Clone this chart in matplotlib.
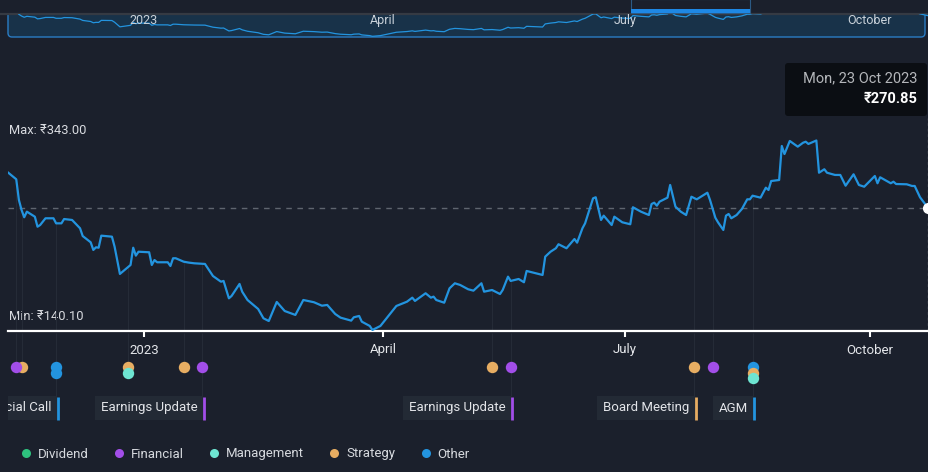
import datetime as dt
import numpy as np
import matplotlib
matplotlib.use("Agg")
import matplotlib.pyplot as plt
import matplotlib.dates as mdates
import matplotlib.transforms as mtransforms
from matplotlib.patches import FancyBboxPatch, Rectangle
from matplotlib.lines import Line2D

plt.rcParams['font.family'] = ['Roboto', 'DejaVu Sans']

# trading days counted from 1 Jan 2023, and the close (INR)
days = [-51, -48, -47, -46, -45, -44, -41, -40, -39, -37,
        -34, -33, -31, -30, -27, -24, -23, -20, -19, -18,
        -17, -16, -12, -11, -9, -5, -4, -3, -2, 2,
        3, 4, 5, 9, 10, 11, 12, 15, 17, 19,
        23, 26, 29, 30, 32, 33, 36, 37, 39, 43,
        45, 47, 50, 53, 57, 60, 64, 67, 69, 72,
        74, 78, 79, 81, 82, 85, 86, 89, 95, 99,
        101, 102, 106, 108, 109, 110, 113, 115, 117, 119,
        122, 124, 127, 128, 131, 134, 135, 137, 138, 141,
        143, 144, 150, 151, 153, 155, 156, 159, 162, 163,
        165, 166, 169, 170, 172, 173, 176, 177, 180, 183,
        184, 187, 190, 191, 192, 193, 194, 197, 198, 200,
        202, 204, 206, 208, 212, 213, 215, 216, 218, 219,
        220, 221, 223, 225, 227, 228, 229, 232, 234, 235,
        236, 239, 240, 241, 243, 246, 248, 249, 250, 253,
        254, 256, 257, 260, 262, 264, 267, 269, 271, 275,
        276, 277, 281, 282, 283, 287, 289, 290, 292, 295]
prices = [308.5, 301.5, 279.3, 268.6, 260.8, 266.8, 261.4, 250.7, 252.5, 259.7,
          259.7, 254.3, 254.3, 258.9, 257.9, 249.0, 240.7, 234.0, 225.8, 228.6,
          228.2, 241.1, 240.0, 229.3, 200.1, 209.7, 228.2, 219.7, 223.9, 223.3,
          209.7, 215.0, 212.6, 212.6, 208.6, 216.9, 216.9, 213.2, 212.2, 211.5,
          210.8, 197.9, 191.8, 192.6, 174.0, 176.5, 189.4, 181.1, 172.2, 162.6,
          152.6, 149.7, 170.1, 160.4, 156.2, 172.2, 169.8, 166.1, 166.9, 157.2,
          153.3, 150.1, 153.7, 155.1, 149.0, 144.4, 140.1, 144.4, 165.8, 170.4,
          174.7, 171.2, 179.4, 174.7, 175.8, 172.2, 169.3, 184.7, 190.1, 188.3,
          183.7, 182.2, 190.1, 181.1, 182.9, 178.6, 182.9, 197.2, 192.6, 194.7,
          191.2, 203.3, 199.0, 218.6, 223.9, 227.6, 231.9, 227.6, 237.5, 233.6,
          249.0, 254.3, 281.1, 282.2, 257.9, 262.5, 252.5, 261.4, 255.4, 253.3,
          271.5, 266.8, 263.2, 275.0, 276.4, 273.2, 277.5, 281.8, 295.4, 272.1,
          266.8, 263.2, 282.8, 280.0, 287.1, 279.3, 260.3, 255.4, 247.2, 262.5,
          264.3, 259.7, 263.2, 269.7, 280.0, 280.0, 283.9, 281.8, 292.5, 290.0,
          299.6, 300.7, 337.1, 328.5, 342.5, 336.4, 340.6, 341.7, 339.3, 343.0,
          308.5, 312.2, 308.5, 306.1, 306.1, 294.6, 306.8, 295.4, 293.5, 305.0,
          297.2, 303.6, 297.2, 298.9, 296.4, 296.1, 294.3, 294.3, 282.2, 270.85]

max_text = 'Max: ₹343.00'
min_text = 'Min: ₹140.10'
tip_date = 'Mon, 23 Oct 2023'
tip_price = '₹270.85'
last_price = 270.85

tick_dates = [dt.datetime(2023, 1, 1), dt.datetime(2023, 4, 1),
              dt.datetime(2023, 7, 1), dt.datetime(2023, 10, 1)]
tick_labels = ['2023', 'April', 'July', 'October']

# events (days from 1 Jan 2023); same-day events stack downwards
event_days = [-46, -48, -33, -33, -6, -6, 15, 22, 131, 138, 207, 214, 229, 229, 229]
event_types = ['Strategy', 'Financial', 'Other', 'Other', 'Strategy', 'Management',
               'Strategy', 'Financial', 'Strategy', 'Financial', 'Strategy',
               'Financial', 'Other', 'Strategy', 'Management']
label_days = [-33, 22, 138, 207, 229]
label_texts = ['Special Call', 'Earnings Update', 'Earnings Update', 'Board Meeting', 'AGM']
label_types = ['Other', 'Financial', 'Financial', 'Strategy', 'Other']

legend_names = ['Dividend', 'Financial', 'Management', 'Strategy', 'Other']
colors = {'Dividend': '#2ec27e', 'Financial': '#a24ee8', 'Management': '#6ee5d2',
          'Strategy': '#e7ad62', 'Other': '#2394df'}

bg = '#1b202c'
line_c = '#2394df'
faint = '#252b37'

W, H = 929, 472
base = mdates.date2num(dt.datetime(2023, 1, 1))
xs = base + np.array(days, dtype=float)

fig = plt.figure(figsize=(W / 100, H / 100), dpi=100, facecolor=bg)

# full-figure pixel overlay for the chrome
ov = fig.add_axes([0, 0, 1, 1], zorder=0)
ov.set_xlim(0, W)
ov.set_ylim(H, 0)
ov.axis('off')

# main price chart
ax = fig.add_axes([8 / W, 1 - 331 / H, 920 / W, 271 / H], zorder=2)
ax.patch.set_alpha(0)
ax.set_xlim(base - 51.1, base + 295.0)
ax.set_ylim(139.0, 429.2)
ax.xaxis_date()
for s in ['top', 'left', 'right']:
    ax.spines[s].set_visible(False)
ax.spines['bottom'].set_color('white')
ax.spines['bottom'].set_linewidth(1.6)
ax.set_yticks([])
ax.set_xticks(mdates.date2num(tick_dates))
ax.set_xticklabels(tick_labels)
ax.tick_params(axis='x', colors='white', length=4, width=1.5,
               labelcolor='#e4e6ea', labelsize=9.5, pad=5)

blend = mtransforms.blended_transform_factory(ax.transData, ov.transData)

# stacking of same-day events
stack = []
seen = {}
for d in event_days:
    stack.append(seen.get(d, 0))
    seen[d] = seen.get(d, 0) + 1

# faint guide lines from the price down to the event markers / labels
for d in sorted(set(event_days)):
    xd = base + d
    top = np.interp(xd, xs, prices)
    ax.vlines(xd, 139.0, top, color=faint, lw=0.8, zorder=1)
    if d in label_days:
        y_end = 396
    else:
        y_end = 367 + 5.6 * (seen[d] - 1)
    ov.vlines(xd, 333, y_end, color=faint, lw=0.8, transform=blend, zorder=1)

ax.axhline(last_price, color='#5f656f', lw=1, ls=(0, (4, 4)), zorder=2)
ax.axvline(xs[-1], ymin=0, ymax=(331 - 118) / 271, color='#5f656f', lw=1,
           ls=(0, (2, 2)), zorder=2, clip_on=False)
ax.plot(xs, prices, color=line_c, lw=1.6, zorder=4, solid_joinstyle='round')
ax.plot(xs[-1], prices[-1], 'o', color='white', ms=7, zorder=5, clip_on=False)

# event markers
for d, t, k in zip(event_days, event_types, stack):
    ov.plot(base + d, 367 + 5.6 * k, 'o', color=colors[t], ms=8.2, mec='none',
            transform=blend, zorder=3)

# event labels with coloured tag
clip = mtransforms.Bbox.from_extents(8, 0, W, H)
for d, txt, t in zip(label_days, label_texts, label_types):
    xd = base + d
    tr = mtransforms.offset_copy(blend, fig=fig, x=-5, y=0, units='dots')
    tx = ov.text(xd, 408, txt, transform=tr, ha='right', va='center',
                 color='#e2e4e8', fontsize=9.5, zorder=3,
                 bbox=dict(boxstyle='square,pad=0.42', fc='#232a35', ec='none'))
    tx.set_clip_box(clip)
    tx.set_clip_on(True)
    trb = mtransforms.offset_copy(blend, fig=fig, x=1.5, y=0, units='dots')
    ov.vlines(xd, 397, 420, color=colors[t], lw=2, transform=trb, zorder=4)

# navigator strip at the top
ov.add_patch(FancyBboxPatch((8, 2), 917, 35, boxstyle='round,pad=0,rounding_size=4',
                            fc='#183249', ec='#2a7cc4', lw=1, zorder=1))
ov.add_patch(Rectangle((0, -1), W, 14.3, fc=bg, ec='none', zorder=2))
ov.plot([0, W], [13.6, 13.6], color='#353a43', lw=1.6, zorder=3)
ov.add_patch(Rectangle((631, -1), 119, 14, fc=bg, ec='#2c5a85', lw=0.8, zorder=4))
ov.add_patch(Rectangle((631, 9), 119, 4.3, fc='#1e88e5', ec='none', zorder=5))

axn = fig.add_axes([8 / W, 1 - 37 / H, 920 / W, 23.4 / H], zorder=1)
axn.patch.set_alpha(0)
axn.set_xlim(base - 51.1, base + 295.0)
axn.set_ylim(135.7, 284.0)
axn.axis('off')
axn.plot(xs, prices, color=line_c, lw=0.9)
for d, lab in zip(tick_dates, tick_labels):
    axn.text(mdates.date2num(d), 0.72, lab, transform=axn.get_xaxis_transform(),
             ha='center', va='center', color='#c9d1d9', fontsize=9, zorder=3)

# max / min annotations
ov.text(9, 130, max_text, ha='left', va='center', color='#d9dbe0', fontsize=9.3)
ov.text(9, 317, min_text, ha='left', va='center', color='#d9dbe0', fontsize=9.3)

# tooltip
ov.add_patch(FancyBboxPatch((785, 63), 142, 53, boxstyle='round,pad=0,rounding_size=3',
                            fc='#0b0e13', ec='none', zorder=5))
ov.text(918, 78, tip_date, ha='right', va='center', color='#b4b6ba', fontsize=10.5, zorder=6)
ov.text(918, 99, tip_price, ha='right', va='center', color='white', fontsize=10.5,
        fontweight='bold', zorder=6)

# legend
handles = [Line2D([], [], ls='none', marker='o', ms=6.5, mec='none', color=colors[n])
           for n in legend_names]
fig.legend(handles, legend_names, loc='center left', bbox_to_anchor=(20 / W, 1 - 454 / H),
           ncol=5, frameon=False, fontsize=9.5, labelcolor='#d6d9de',
           handlelength=0.9, handletextpad=0.45, columnspacing=1.85,
           borderpad=0, borderaxespad=0)

fig.savefig('out.png', dpi=100, facecolor=bg)
